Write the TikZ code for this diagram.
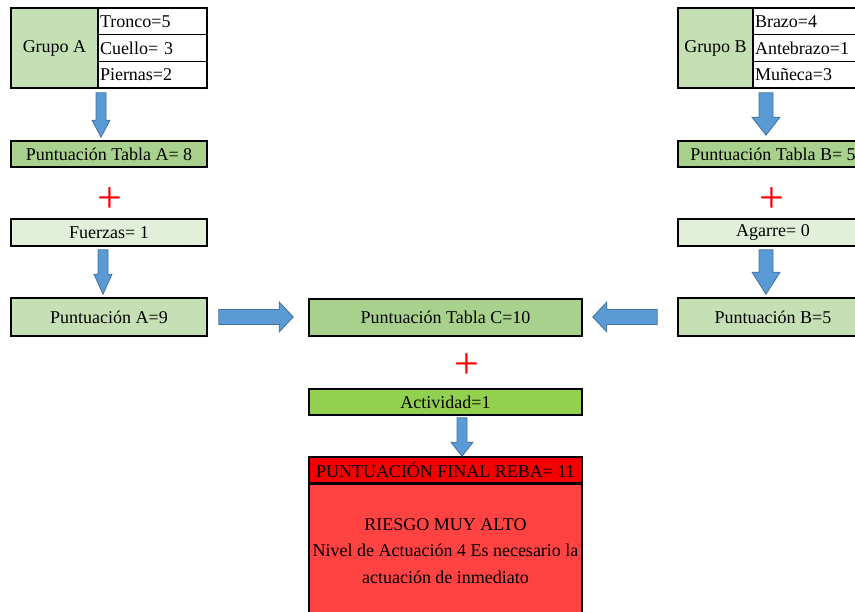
\documentclass[tikz,border=0pt]{standalone}
\usepackage{fontspec}
\setmainfont{Liberation Serif}
\usetikzlibrary{calc}
\definecolor{grpgreen}{HTML}{C5E0B4}
\definecolor{tabgreen}{HTML}{A9D18E}
\definecolor{palegreen}{HTML}{E2F0D9}
\definecolor{actgreen}{HTML}{92D050}
\definecolor{hdrred}{HTML}{F50000}
\definecolor{bodyred}{HTML}{FF4242}
\definecolor{arrowblue}{HTML}{5B9BD5}
\definecolor{arrowedge}{HTML}{41719C}
\newcommand\blkdown[5]{%
  \path[blkarrow] let \p1=#1, \p2=#2 in
  (\x1-#3,\y1) -- (\x1+#3,\y1) -- (\x1+#3,\y2+#5) -- (\x1+#4,\y2+#5) --
  (\x1,\y2) -- (\x1-#4,\y2+#5) -- (\x1-#3,\y2+#5) -- cycle;}
\newcommand\blkright[5]{%
  \path[blkarrow] let \p1=#1, \p2=#2 in
  (\x1,\y1+#3) -- (\x2-#5,\y1+#3) -- (\x2-#5,\y1+#4) -- (\x2,\y1) --
  (\x2-#5,\y1-#4) -- (\x2-#5,\y1-#3) -- (\x1,\y1-#3) -- cycle;}
\newcommand\blkleft[5]{%
  \path[blkarrow] let \p1=#1, \p2=#2 in
  (\x1,\y1+#3) -- (\x2+#5,\y1+#3) -- (\x2+#5,\y1+#4) -- (\x2,\y1) --
  (\x2+#5,\y1-#4) -- (\x2+#5,\y1-#3) -- (\x1,\y1-#3) -- cycle;}
\begin{document}
\begin{tikzpicture}[x=1pt,y=-1pt,
  every node/.style={font=\fontsize{18}{26.5}\selectfont},
  box/.style={draw=black, line width=1.6pt, inner sep=0pt, align=center},
  cell/.style={draw=black, line width=1.6pt, fill=white, inner xsep=2pt, inner ysep=0pt,
     text width=105pt, align=left, minimum height=26.67pt},
  plussign/.style={text=red, font=\fontsize{44}{44}\selectfont, inner sep=0pt},
  blkarrow/.style={fill=arrowblue, draw=arrowedge, line width=0.8pt}]
\useasboundingbox (0,0) rectangle (855,612);

% Group A
\node[box, fill=grpgreen, minimum width=87pt, minimum height=80pt] (grpA) at (54.5,48) {Grupo A};
\node[cell] (tronco) at (152.5,21.33) {Tronco=5};
\node[cell] (cuello) at (152.5,48) {Cuello= 3};
\node[cell] (piernas) at (152.5,74.67) {Piernas=2};

% Group B
\node[box, fill=grpgreen, minimum width=75pt, minimum height=80pt] (grpB) at (715.5,48) {Grupo B};
\node[cell] (brazo) at (807.5,21.33) {Brazo=4};
\node[cell] (antebrazo) at (807.5,48) {Antebrazo=1};
\node[cell] (muneca) at (807.5,74.67) {Muñeca=3};

% Left column
\node[box, fill=tabgreen, minimum width=196pt, minimum height=26pt] (tabA) at (109,154) {Puntuación Tabla A= 8};
\node[plussign] (plusA) at (110,200) {+};
\node[box, fill=palegreen, minimum width=196pt, minimum height=27pt] (fuerzas) at (109,232.5) {Fuerzas= 1};
\node[box, fill=grpgreen, minimum width=196pt, minimum height=38pt] (puntA) at (109,317) {Puntuación A=9};

% Right column
\node[box, fill=tabgreen, minimum width=190pt, minimum height=26pt] (tabB) at (773,154) {Puntuación Tabla B= 5};
\node[plussign] (plusB) at (772,200) {+};
\node[box, fill=palegreen, minimum width=190pt, minimum height=27pt] (agarre) at (773,232.5) {Agarre= 0};
\node[box, fill=grpgreen, minimum width=190pt, minimum height=38pt] (puntB) at (773,317) {Puntuación B=5};

% Centre column
\node[box, fill=tabgreen, minimum width=273pt, minimum height=37pt] (tabC) at (445.5,317.5) {Puntuación Tabla C=10};
\node[plussign] (plusC) at (467,366) {+};
\node[box, fill=actgreen, minimum width=273pt, minimum height=26pt] (activ) at (445.5,402) {Actividad=1};
\node[box, fill=hdrred, minimum width=273pt, minimum height=26pt] (final) at (445.5,470) {PUNTUACIÓN FINAL REBA= 11};
\node[box, fill=bodyred, minimum width=273pt, minimum height=133pt, anchor=north] (riesgo) at (final.south)
  {RIESGO MUY ALTO\\Nivel de Actuación 4 Es necesario la\\actuación de inmediato};
\draw[line width=1.6pt] (final.south west) -- (final.south east);

% Block arrows
\blkdown{($(101,0 |- piernas.south)+(0,4)$)}{($(101,0 |- tabA.north)+(0,-3)$)}{5pt}{9pt}{17pt}
\blkdown{($(103,0 |- fuerzas.south)+(0,3)$)}{($(103,0 |- puntA.north)+(0,-3)$)}{5pt}{9pt}{20pt}
\blkdown{($(766,0 |- muneca.south)+(0,4)$)}{($(766,0 |- tabB.north)+(0,-5)$)}{7pt}{14pt}{18pt}
\blkdown{($(766,0 |- agarre.south)+(0,3)$)}{($(766,0 |- puntB.north)+(0,-3)$)}{7pt}{14pt}{22pt}
\blkdown{($(462,0 |- activ.south)+(0,2)$)}{($(462,0 |- final.north)+(0,0)$)}{5pt}{11pt}{14pt}
\blkright{($(puntA.east)+(11,0)$)}{($(tabC.west)+(-15,0)$)}{7.5pt}{15pt}{14pt}
\blkleft{($(puntB.west)+(-20,0)$)}{($(tabC.east)+(10,0)$)}{7.5pt}{15pt}{14pt}
\end{tikzpicture}
\end{document}
